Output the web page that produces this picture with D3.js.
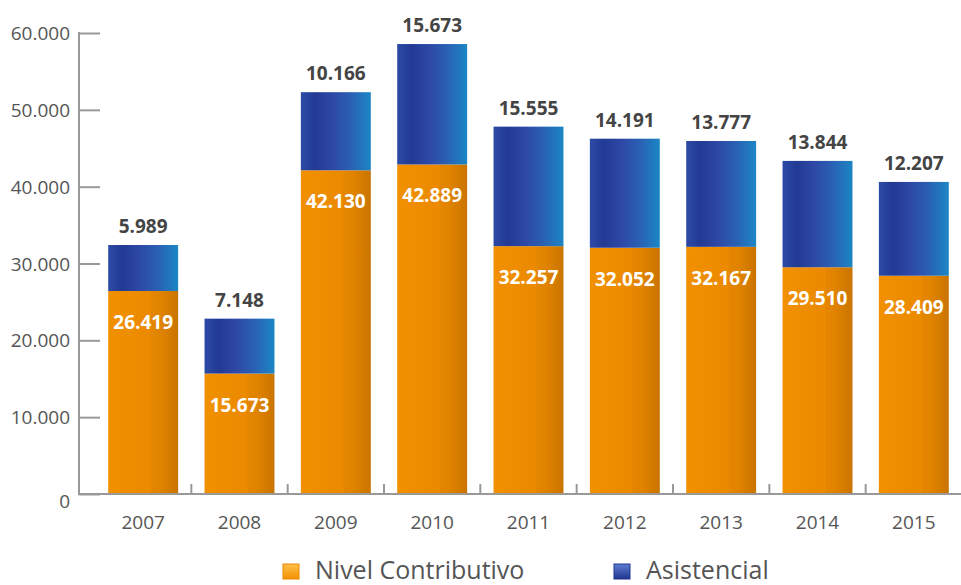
<!DOCTYPE html>
<html><head><meta charset="utf-8">
<script src="https://cdn.jsdelivr.net/npm/d3@7"></script>
<style>body{margin:0;background:#fff;} svg{display:block;}</style>
</head><body>
<svg id="c" width="961" height="585"></svg>
<script>
const years = ["2007","2008","2009","2010","2011","2012","2013","2014","2015"];
const contributivo = [26419,15673,42130,42889,32257,32052,32167,29510,28409];
const asistencial = [5989,7148,10166,15673,15555,14191,13777,13844,12207];
const yTicks = [0,10000,20000,30000,40000,50000,60000];
const seriesNames = ["Nivel Contributivo","Asistencial"];

const fmt = v => d3.format(",")(v).replace(/,/g,".");
const svg = d3.select("#c");
const font = "'Open Sans', 'Noto Sans', sans-serif";

const defs = svg.append("defs");
const og = defs.append("linearGradient").attr("id","gOr").attr("x1","0").attr("x2","1").attr("y1","0").attr("y2","0");
[[0,"#f19000"],[0.6,"#ec8a00"],[0.62,"#e48600"],[0.75,"#e08300"],[1,"#c97400"]].forEach(s=>og.append("stop").attr("offset",s[0]).attr("stop-color",s[1]));
const bg = defs.append("linearGradient").attr("id","gBl").attr("x1","0").attr("x2","1").attr("y1","0").attr("y2","0");
[[0,"#2c4ba6"],[0.2,"#223a93"],[0.45,"#2d48a6"],[0.7,"#2a5fb3"],[1,"#1c86c4"]].forEach(s=>bg.append("stop").attr("offset",s[0]).attr("stop-color",s[1]));
const lo = defs.append("linearGradient").attr("id","lOr").attr("x1","0").attr("x2","0").attr("y1","0").attr("y2","1");
[[0,"#ffc04a"],[1,"#f39200"]].forEach(s=>lo.append("stop").attr("offset",s[0]).attr("stop-color",s[1]));
const lb = defs.append("linearGradient").attr("id","lBl").attr("x1","0").attr("x2","0").attr("y1","0").attr("y2","1");
[[0,"#5f7fd0"],[1,"#1f3590"]].forEach(s=>lb.append("stop").attr("offset",s[0]).attr("stop-color",s[1]));

const y = d3.scaleLinear().domain([0,60000]).range([494,33]);
const x = d3.scaleBand().domain(years).range([95,962]).paddingInner(0.274).paddingOuter(0.137);
const axisColor = "#999";

// y axis
const ya = svg.append("g").attr("transform","translate(79,0)")
  .call(d3.axisRight(y).tickValues(yTicks).tickSize(21).tickFormat(""));
ya.select(".domain").remove();
ya.selectAll(".tick line").attr("stroke",axisColor).attr("stroke-width",2);
svg.append("line").attr("x1",79).attr("x2",79).attr("y1",y(60000)-1).attr("y2",y(0)+1).attr("stroke",axisColor).attr("stroke-width",2);
svg.append("g").selectAll("text").data(yTicks).join("text")
  .attr("x",70).attr("y",d=>y(d)+(d===0?14:7)).attr("text-anchor","end")
  .attr("font-family",font).attr("font-size",19).attr("fill","#555").text(d=>d===0?"0":fmt(d));

// x axis ticks at category boundaries
const step = x.step();
svg.append("g").selectAll("line").data(years.slice(1)).join("line")
  .attr("x1",d=>x(d)-(step-x.bandwidth())/2).attr("x2",d=>x(d)-(step-x.bandwidth())/2)
  .attr("y1",y(0)).attr("y2",y(0)-10).attr("stroke",axisColor).attr("stroke-width",2);

// bars
const g = svg.append("g");
years.forEach((yr,i)=>{
  const c = contributivo[i], a = asistencial[i];
  g.append("rect").attr("x",x(yr)).attr("width",x.bandwidth()).attr("y",y(c)).attr("height",y(0)-y(c)).attr("fill","url(#gOr)");
  g.append("rect").attr("x",x(yr)).attr("width",x.bandwidth()).attr("y",y(c+a)).attr("height",y(c)-y(c+a)).attr("fill","url(#gBl)");
  g.append("text").attr("x",x(yr)+x.bandwidth()/2).attr("y",y(c)+38).attr("text-anchor","middle")
    .attr("font-family",font).attr("font-weight","bold").attr("font-size",19).attr("fill","#fff").text(fmt(c));
  g.append("text").attr("x",x(yr)+x.bandwidth()/2).attr("y",y(c+a)-12).attr("text-anchor","middle")
    .attr("font-family",font).attr("font-weight","bold").attr("font-size",19).attr("fill","#444").text(fmt(a));
});
svg.append("line").attr("x1",78).attr("x2",961).attr("y1",y(0)).attr("y2",y(0)).attr("stroke",axisColor).attr("stroke-width",2);

svg.append("g").selectAll("text").data(years).join("text")
  .attr("x",d=>x(d)+x.bandwidth()/2).attr("y",529).attr("text-anchor","middle")
  .attr("font-family",font).attr("font-size",19).attr("fill","#555").text(d=>d);

// legend
const leg = [{n:seriesNames[0],f:"url(#lOr)",s:"#e88a00",x:283},{n:seriesNames[1],f:"url(#lBl)",s:"#1f3590",x:614}];
leg.forEach(l=>{
  svg.append("rect").attr("x",l.x).attr("y",564).attr("width",16).attr("height",15).attr("fill",l.f).attr("stroke",l.s).attr("stroke-width",1);
  svg.append("text").attr("x",l.x+32).attr("y",579).attr("font-family",font).attr("font-size",25).attr("fill","#555").text(l.n);
});
</script>
</body></html>
